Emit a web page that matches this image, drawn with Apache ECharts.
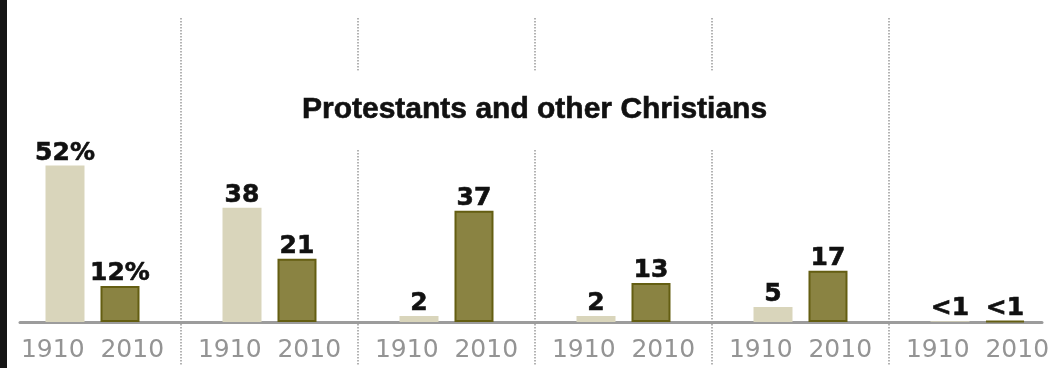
<!DOCTYPE html>
<html>
<head>
<meta charset="utf-8">
<script src="https://cdn.jsdelivr.net/npm/echarts@6/dist/echarts.min.js"></script>
<style>
  html, body { margin: 0; padding: 0; background: #fff; }
  #chart { width: 1057px; height: 368px; }
</style>
</head>
<body>
<div id="chart"></div>
<script>
// group keys (region names are cut off in the source picture)
const groups = ['g1', 'g2', 'g3', 'g4', 'g5', 'g6'];
const years = ['1910', '2010'];
const values1910 = [52, 38, 2, 2, 5, 0.3];
const values2010 = [12, 21, 37, 13, 17, 0.3];
const labels1910 = ['52%', '38', '2', '2', '5', '<1'];
const labels2010 = ['12%', '21', '37', '13', '17', '<1'];
const chartTitle = 'Protestants and other Christians';

const chart = echarts.init(document.getElementById('chart'), null, { renderer: 'canvas' });

const valueLabel = (texts) => ({
    show: true,
    position: 'top',
    distance: 0,
    color: '#111',
    fontFamily: 'DejaVu Sans',
    fontWeight: 'bold',
    fontSize: 25,
    textBorderColor: '#111',
    textBorderWidth: 0.6,
    formatter: p => texts[p.dataIndex]
});

const hiddenY = (gridIndex) => ({
    type: 'value', gridIndex: gridIndex, min: 0, max: 1, show: false, splitLine: { show: false }
});

const option = {
    animation: false,
    backgroundColor: '#fff',
    title: {
        text: chartTitle,
        left: 276,
        top: 71,
        padding: [24, 26, 24, 26],
        backgroundColor: '#fff',
        textStyle: {
            fontFamily: 'Liberation Sans',
            fontWeight: 'bold',
            fontSize: 30,
            color: '#111',
            textBorderColor: '#111',
            textBorderWidth: 0.6
        }
    },
    grid: [
        // bars + dotted separators (run below the baseline)
        { left: 4, right: -9, top: 18, bottom: 2, outerBoundsMode: 'none' },
        // baseline
        { left: 20, right: 15, top: 18, bottom: 46, outerBoundsMode: 'none' },
        // year labels under each group
        { left: 4, right: -9, top: 18, bottom: 46, outerBoundsMode: 'none' }
    ],
    xAxis: [
        {
            type: 'category',
            gridIndex: 0,
            data: groups,
            axisLine: { show: false },
            axisTick: { show: false },
            axisLabel: { show: false },
            splitLine: {
                show: true,
                interval: 0,
                lineStyle: { type: 'dotted', color: '#9a9a9a', width: 1.5 }
            }
        },
        {
            type: 'category',
            gridIndex: 1,
            data: groups,
            axisLine: { show: true, lineStyle: { color: '#9c9c9c', width: 3 } },
            axisTick: { show: false },
            axisLabel: { show: false },
            splitLine: { show: false }
        },
        {
            type: 'category',
            gridIndex: 2,
            data: groups,
            axisLine: { show: false },
            axisTick: { show: false },
            axisLabel: {
                interval: 0,
                hideOverlap: false,
                margin: 16,
                color: '#949494',
                fontFamily: 'DejaVu Sans',
                fontSize: 25,
                formatter: () => years.join('  ')
            },
            splitLine: { show: false }
        }
    ],
    yAxis: [
        { type: 'value', gridIndex: 0, min: -14.6, max: 101, show: false, splitLine: { show: false } },
        hiddenY(1),
        hiddenY(2)
    ],
    series: [
        {
            name: years[0],
            type: 'bar',
            xAxisIndex: 0,
            yAxisIndex: 0,
            barWidth: 39,
            barGap: '41%',
            data: values1910,
            itemStyle: { color: '#d9d5bb' },
            label: valueLabel(labels1910),
            z: 3
        },
        {
            name: years[1],
            type: 'bar',
            xAxisIndex: 0,
            yAxisIndex: 0,
            barWidth: 39,
            data: values2010,
            itemStyle: { color: '#8a8342', borderColor: '#645e12', borderWidth: 2 },
            label: valueLabel(labels2010),
            z: 3
        }
    ],
    graphic: [
        {
            type: 'rect',
            left: 0,
            top: 0,
            z: 100,
            shape: { width: 7, height: 368 },
            style: { fill: '#151515' }
        }
    ]
};

chart.setOption(option);
</script>
</body>
</html>
